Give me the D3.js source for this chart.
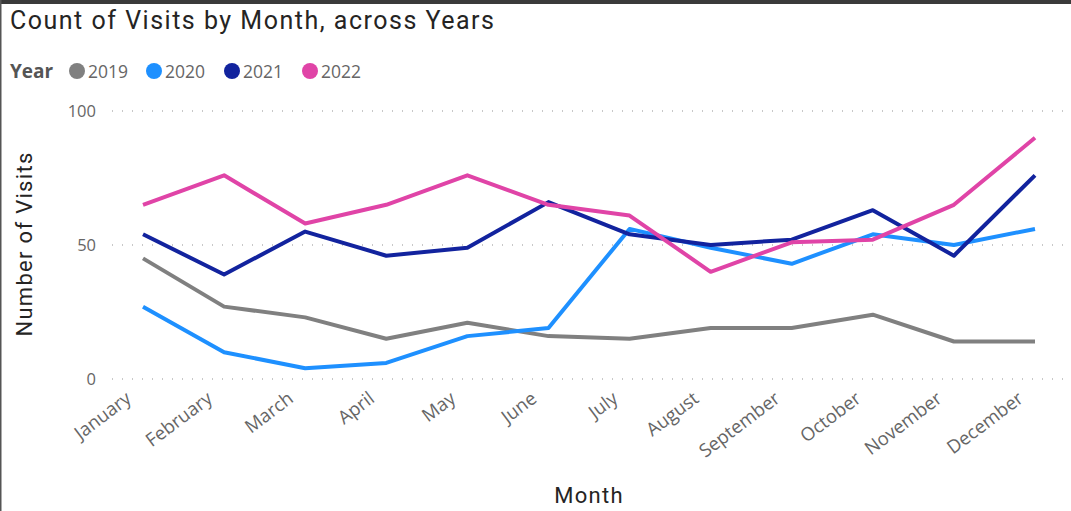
<!DOCTYPE html>
<html>
  <head>
    <style>
      body { margin: 0; background: #fff; }
    </style>
  </head>
  <body>
    <script src="https://d3js.org/d3.v7.min.js"></script>
    <script>
      // data
      var months = ["January", "February", "March", "April", "May", "June",
                    "July", "August", "September", "October", "November", "December"];
      var years = ["2019", "2020", "2021", "2022"];
      var colors = ["#808080", "#1E90FF", "#12239E", "#E044A7"];
      var visits2019 = [45, 27, 23, 15, 21, 16, 15, 19, 19, 24, 14, 14];
      var visits2020 = [27, 10, 4, 6, 16, 19, 56, 49, 43, 54, 50, 56];
      var visits2021 = [54, 39, 55, 46, 49, 66, 54, 50, 52, 63, 46, 76];
      var visits2022 = [65, 76, 58, 65, 76, 65, 61, 40, 51, 52, 65, 90];
      var yTicks = [0, 50, 100];

      var series = [visits2019, visits2020, visits2021, visits2022];

      var W = 1071, H = 511;
      var svg = d3.select("body").append("svg")
        .attr("width", W).attr("height", H);

      // frame
      svg.append("rect").attr("x", 0).attr("y", 0).attr("width", W).attr("height", 4)
        .attr("fill", "#3a3a3a");
      svg.append("line").attr("x1", 0.5).attr("y1", 0).attr("x2", 0.5).attr("y2", H)
        .attr("stroke", "#555").attr("stroke-width", 2);

      // title
      svg.append("text")
        .attr("x", 10).attr("y", 29)
        .style("font-family", "Roboto, sans-serif")
        .style("font-size", "25px")
        .style("letter-spacing", "1.5px")
        .style("fill", "#252423")
        .text("Count of Visits by Month, across Years");

      // legend
      var legend = svg.append("g").attr("transform", "translate(10,78)");
      legend.append("text")
        .attr("x", 0).attr("y", 0)
        .style("font-family", "'Open Sans', sans-serif")
        .style("font-weight", "bold")
        .style("font-size", "19px")
        .style("fill", "#555")
        .text("Year");
      var legendX = [67, 144, 222, 300];
      years.forEach(function(y, i){
        legend.append("circle")
          .attr("cx", legendX[i]).attr("cy", -7).attr("r", 8)
          .attr("fill", colors[i]);
        legend.append("text")
          .attr("x", legendX[i] + 11).attr("y", 0)
          .style("font-family", "'Open Sans', sans-serif")
          .style("font-size", "17.5px")
          .style("fill", "#666")
          .text(y);
      });

      // scales
      var x = d3.scalePoint().domain(months).range([143, 1035]);
      var yScale = d3.scaleLinear().domain([0, 100]).range([379, 111]);

      // grid
      svg.append("g").selectAll("line")
        .data(yTicks).enter().append("line")
        .attr("x1", 112).attr("x2", 1063)
        .attr("y1", function(d){ return yScale(d); })
        .attr("y2", function(d){ return yScale(d); })
        .attr("stroke", "#c8c8c8")
        .attr("stroke-width", 2)
        .attr("stroke-dasharray", "1,9");

      // y axis
      var yAxis = svg.append("g")
        .attr("transform", "translate(96,0)")
        .call(d3.axisLeft(yScale).tickValues(yTicks).tickSize(0).tickPadding(0));
      yAxis.select(".domain").remove();
      yAxis.selectAll("text")
        .style("font-family", "'Open Sans', sans-serif")
        .style("font-size", "16.5px")
        .style("fill", "#666");

      // x axis
      var xAxis = svg.append("g")
        .attr("transform", "translate(0,379)")
        .call(d3.axisBottom(x).tickSize(0).tickPadding(0));
      xAxis.select(".domain").remove();
      xAxis.selectAll("text")
        .attr("text-anchor", "end")
        .attr("dy", 0)
        .attr("transform", "translate(-11,22) rotate(-37)")
        .style("font-family", "'Open Sans', sans-serif")
        .style("font-size", "18.5px")
        .style("fill", "#666");

      // axis titles
      svg.append("text")
        .attr("transform", "translate(32,244) rotate(-90)")
        .attr("text-anchor", "middle")
        .style("font-family", "Roboto, sans-serif")
        .style("font-size", "22px")
        .style("letter-spacing", "1.3px")
        .style("fill", "#252423")
        .text("Number of Visits");
      svg.append("text")
        .attr("x", 589).attr("y", 503)
        .attr("text-anchor", "middle")
        .style("font-family", "Roboto, sans-serif")
        .style("font-size", "22px")
        .style("letter-spacing", "1.3px")
        .style("fill", "#252423")
        .text("Month");

      // lines
      var line = d3.line()
        .x(function(d, i){ return x(months[i]); })
        .y(function(d){ return yScale(d); });
      series.forEach(function(s, i){
        svg.append("path")
          .datum(s)
          .attr("d", line)
          .attr("fill", "none")
          .attr("stroke", colors[i])
          .attr("stroke-width", 4)
          .attr("stroke-linejoin", "round")
          .attr("stroke-linecap", "butt");
      });
    </script>
  </body>
</html>
